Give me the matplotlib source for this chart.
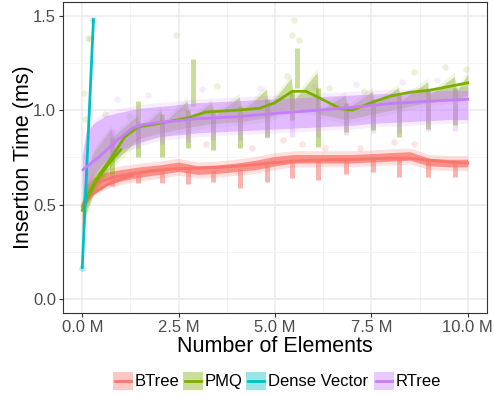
import matplotlib
matplotlib.use('Agg')
import matplotlib.pyplot as plt
from matplotlib.patches import Rectangle
from matplotlib.lines import Line2D
from matplotlib import rcParams
rcParams['font.family'] = ['Liberation Sans', 'DejaVu Sans']

W, H = 494, 396

# series colours (ggplot hue palette)
names = ['BTree', 'PMQ', 'Dense Vector', 'RTree']
colors = ['#F8766D', '#7CAE00', '#00BFC4', '#C77CFF']

# positions of the periodic dips (millions of elements)
dip_x = [0.76, 1.44, 2.06, 2.74, 3.38, 4.09, 4.79, 5.44, 6.11, 6.84, 7.54, 8.22, 8.97, 9.67]

# BTree: cloud envelope, dips and smoothed curves
btree_x = [0.0, 0.1, 0.3, 0.6, 1.0, 1.5, 2.0, 2.5, 3.0, 3.5, 4.0, 4.5, 5.0, 5.5, 6.0, 6.5, 7.0, 7.5, 8.0, 8.5, 9.0, 9.5, 10.0]
btree_lo = [0.38, 0.50, 0.57, 0.60, 0.625, 0.645, 0.66, 0.675, 0.66, 0.665, 0.675, 0.685, 0.705, 0.72, 0.72, 0.72, 0.72, 0.725, 0.73, 0.735, 0.705, 0.70, 0.70]
btree_hi = [0.50, 0.60, 0.645, 0.67, 0.685, 0.70, 0.71, 0.725, 0.705, 0.71, 0.72, 0.735, 0.755, 0.765, 0.765, 0.765, 0.765, 0.77, 0.775, 0.78, 0.745, 0.74, 0.74]
btree_dip_top = [0.655, 0.67, 0.685, 0.70, 0.685, 0.69, 0.71, 0.74, 0.74, 0.745, 0.745, 0.75, 0.73, 0.72]
btree_dip = [0.60, 0.615, 0.615, 0.61, 0.62, 0.59, 0.62, 0.64, 0.63, 0.66, 0.675, 0.645, 0.645, 0.645]
btree_fit_x = [0.0, 0.15, 0.4, 0.8, 1.2, 1.6, 2.0, 2.5, 3.0, 3.5, 4.0, 4.5, 5.0, 5.5, 6.0, 6.5, 7.0, 7.5, 8.0, 8.5, 9.0, 9.5, 10.0]
btree_fit_y = [0.49, 0.565, 0.615, 0.645, 0.66, 0.672, 0.683, 0.69, 0.693, 0.697, 0.703, 0.712, 0.722, 0.73, 0.735, 0.737, 0.738, 0.742, 0.746, 0.745, 0.735, 0.725, 0.72]
btree_fit2_x = [0.03, 0.3, 0.65, 1.0, 1.3]
btree_fit2_y = [0.50, 0.56, 0.605, 0.635, 0.655]
btree_out_x = [3.2, 4.4, 5.2, 5.7, 6.3, 7.2, 8.1, 8.6]
btree_out_y = [0.82, 0.80, 0.84, 0.82, 0.80, 0.80, 0.83, 0.82]

# PMQ: sawtooth cloud, dips, upward bursts and smoothed curves
pmq_x = [0.0, 0.1, 0.3, 0.74, 0.8, 1.42, 1.48, 2.04, 2.1, 2.72, 2.78, 3.36, 3.42, 4.07, 4.13, 4.77,
         4.83, 5.42, 5.48, 6.09, 6.15, 6.82, 6.88, 7.52, 7.58, 8.2, 8.26, 8.95, 9.01, 9.65, 9.71, 10.0]
pmq_hi = [0.52, 0.66, 0.78, 0.90, 0.86, 0.97, 0.90, 1.00, 0.93, 1.05, 0.95, 1.04, 0.97, 1.07, 0.99, 1.11,
          1.02, 1.17, 1.05, 1.20, 1.00, 1.08, 1.01, 1.10, 1.03, 1.12, 1.05, 1.15, 1.08, 1.18, 1.10, 1.19]
pmq_lo = [0.30, 0.45, 0.57, 0.70, 0.72, 0.84, 0.85, 0.88, 0.88, 0.91, 0.91, 0.93, 0.93, 0.94, 0.94, 0.96,
          0.96, 1.01, 1.01, 0.99, 0.98, 0.95, 0.95, 0.98, 0.98, 1.01, 1.01, 1.04, 1.04, 1.06, 1.06, 1.08]
pmq_dip_top = [0.85, 0.95, 0.98, 1.0, 1.0, 1.02, 1.06, 1.10, 1.12, 1.04, 1.06, 1.08, 1.10, 1.12]
pmq_dip = [0.66, 0.75, 0.75, 0.80, 0.79, 0.80, 0.86, 0.95, 0.805, 0.885, 0.893, 0.858, 0.90, 0.92]
pmq_burst_x = [1.44, 2.87, 5.56]
pmq_burst_lo = [0.95, 1.02, 1.12]
pmq_burst_hi = [1.05, 1.27, 1.33]
pmq_fit_x = [0.0, 0.11, 0.45, 0.76, 1.1, 1.45, 2.0, 2.75, 3.2, 4.0, 4.6, 5.0, 5.45, 5.8, 6.2, 6.7, 7.0, 7.5, 8.0, 8.5, 9.0, 9.5, 10.0]
pmq_fit_y = [0.47, 0.54, 0.66, 0.75, 0.858, 0.911, 0.93, 0.96, 0.99, 1.0, 1.01, 1.04, 1.10, 1.10, 1.06, 1.008, 1.0, 1.04, 1.075, 1.095, 1.105, 1.125, 1.145]
pmq_fit2_x = [0.05, 0.35, 0.7, 1.0]
pmq_fit2_y = [0.50, 0.62, 0.72, 0.79]
pmq_out_x = [0.05, 0.07, 0.16, 0.19, 0.6, 1.2, 2.44, 3.5, 5.45, 5.5, 5.62, 5.3, 6.4, 7.3, 8.6, 9.4, 9.95]
pmq_out_y = [1.09, 0.955, 1.38, 1.375, 0.98, 0.97, 1.40, 1.13, 1.40, 1.48, 1.37, 1.18, 1.12, 1.10, 1.20, 1.23, 1.22]

# Dense Vector: only the first few hundred thousand elements
dense_x = [0.0, 0.29]
dense_y = [0.166, 1.48]

# RTree: cloud envelope, dips and smoothed curve
rtree_x = [0.0, 0.1, 0.3, 0.6, 1.0, 1.5, 2.0, 2.5, 3.0, 3.5, 4.0, 4.5, 5.0, 5.5, 6.0, 6.5, 7.0, 7.5, 8.0, 8.5, 9.0, 9.5, 10.0]
rtree_lo = [0.50, 0.58, 0.66, 0.73, 0.79, 0.83, 0.86, 0.87, 0.88, 0.885, 0.89, 0.895, 0.90, 0.905, 0.91, 0.915, 0.92, 0.93, 0.935, 0.94, 0.945, 0.95, 0.95]
rtree_hi = [0.76, 0.88, 0.93, 0.97, 0.99, 1.01, 1.02, 1.03, 1.04, 1.045, 1.05, 1.055, 1.06, 1.065, 1.07, 1.075, 1.08, 1.085, 1.09, 1.095, 1.10, 1.105, 1.105]
rtree_dip_top = [0.90, 0.93, 0.95, 0.96, 0.97, 0.97, 0.98, 0.99, 0.99, 1.0, 1.01, 1.02, 1.03, 1.03]
rtree_dip = [0.76, 0.80, 0.82, 0.83, 0.84, 0.84, 0.85, 0.86, 0.86, 0.87, 0.88, 0.88, 0.89, 0.89]
rtree_fit_x = [0.02, 0.45, 0.9, 1.3, 1.6, 2.0, 3.0, 4.0, 5.0, 6.0, 7.0, 8.0, 9.0, 10.0]
rtree_fit_y = [0.685, 0.755, 0.84, 0.905, 0.925, 0.935, 0.955, 0.965, 0.983, 0.998, 1.015, 1.035, 1.048, 1.058]
rtree_out_x = [0.9, 1.7, 3.1, 4.6, 6.0, 7.1, 8.3, 9.2]
rtree_out_y = [1.06, 1.08, 1.11, 1.12, 1.13, 1.14, 1.15, 1.16]

x_ticks = [0.0, 2.5, 5.0, 7.5, 10.0]
y_ticks = [0.0, 0.5, 1.0, 1.5]

fig = plt.figure(figsize=(W / 100, H / 100), dpi=100)
ax = fig.add_axes([63 / W, 1 - 313 / H, (487 - 63) / W, (313 - 1.7) / H])
ax.set_xlim(-0.5, 10.5)
ax.set_ylim(-0.075, 1.575)

# grid
ax.set_xticks(x_ticks)
ax.set_yticks(y_ticks)
ax.set_xticks([1.25, 3.75, 6.25, 8.75], minor=True)
ax.set_yticks([0.25, 0.75, 1.25], minor=True)
ax.grid(True, which='major', color='#EBEBEB', lw=1.1, zorder=0)
ax.grid(True, which='minor', color='#F3F3F3', lw=0.6, zorder=0)
ax.set_axisbelow(True)


def cloud(x, lo, hi, color, alpha):
    # dense core plus a faint fringe so the edges look like scattered points
    ax.fill_between(x, [v - 0.02 for v in lo], [v + 0.02 for v in hi], color=color, alpha=alpha * 0.3, lw=0, zorder=2)
    ax.fill_between(x, lo, hi, color=color, alpha=alpha, lw=0, zorder=2)


def streaks(x, lo, hi, color, alpha):
    ax.vlines(x, lo, hi, color=color, alpha=alpha, lw=3.6, zorder=2)


# point clouds, in factor order
cloud(btree_x, btree_lo, btree_hi, colors[0], 0.75)
streaks(dip_x, btree_dip, btree_dip_top, colors[0], 0.55)
ax.scatter(btree_out_x, btree_out_y, s=22, color=colors[0], alpha=0.2, lw=0, zorder=2)

cloud(pmq_x, pmq_lo, pmq_hi, colors[1], 0.35)
streaks(dip_x, pmq_dip, pmq_dip_top, colors[1], 0.45)
streaks(pmq_burst_x, pmq_burst_lo, pmq_burst_hi, colors[1], 0.4)
ax.scatter(pmq_out_x, pmq_out_y, s=22, color=colors[1], alpha=0.15, lw=0, zorder=2)

ax.scatter(dense_x, dense_y, s=22, color=colors[2], alpha=0.3, lw=0, zorder=2)

cloud(rtree_x, rtree_lo, rtree_hi, colors[3], 0.45)
streaks(dip_x, rtree_dip, rtree_dip_top, colors[3], 0.25)
ax.scatter(rtree_out_x, rtree_out_y, s=22, color=colors[3], alpha=0.15, lw=0, zorder=2)

# smoothed trends
ax.plot(btree_fit_x, btree_fit_y, color=colors[0], lw=2, zorder=3)
ax.plot(btree_fit2_x, btree_fit2_y, color=colors[0], lw=2, zorder=3)
ax.plot(pmq_fit_x, pmq_fit_y, color=colors[1], lw=2, zorder=3)
ax.plot(pmq_fit2_x, pmq_fit2_y, color=colors[1], lw=2, zorder=3)
ax.plot(dense_x, dense_y, color=colors[2], lw=2, zorder=3)
ax.plot(rtree_fit_x, rtree_fit_y, color=colors[3], lw=2, zorder=3)

# axes styling
for s in ax.spines.values():
    s.set_color('#333333')
    s.set_linewidth(0.8)
ax.set_xticklabels(['%.1f M' % v for v in x_ticks])
ax.set_yticklabels(['%.1f' % v for v in y_ticks])
ax.tick_params(which='major', labelsize=12, labelcolor='#4D4D4D', color='#333333', length=3, width=0.8, pad=2)
ax.tick_params(which='minor', length=0)

fig.text(275 / W, 1 - 352 / H, 'Number of Elements', fontsize=15.5, ha='center', va='baseline')
fig.text(29 / W, 1 - 157.3 / H, 'Insertion Time (ms)', fontsize=15.5, ha='center', va='baseline',
         rotation=90, rotation_mode='anchor')

# legend along the bottom
key_left = [113, 183, 246, 374]
for i in range(4):
    x0 = key_left[i]
    fig.add_artist(Rectangle((x0 / W, 1 - 390 / H), 19.5 / W, 18.5 / H, transform=fig.transFigure,
                             facecolor=colors[i], alpha=0.4, lw=0))
    fig.add_artist(Line2D([(x0 + 1.5) / W, (x0 + 18) / W], [1 - 380.8 / H] * 2, transform=fig.transFigure,
                          color=colors[i], lw=2))
    fig.text((x0 + 21.5) / W, 1 - 386 / H, names[i], fontsize=12, va='baseline')

fig.savefig('out.png', dpi=100)
